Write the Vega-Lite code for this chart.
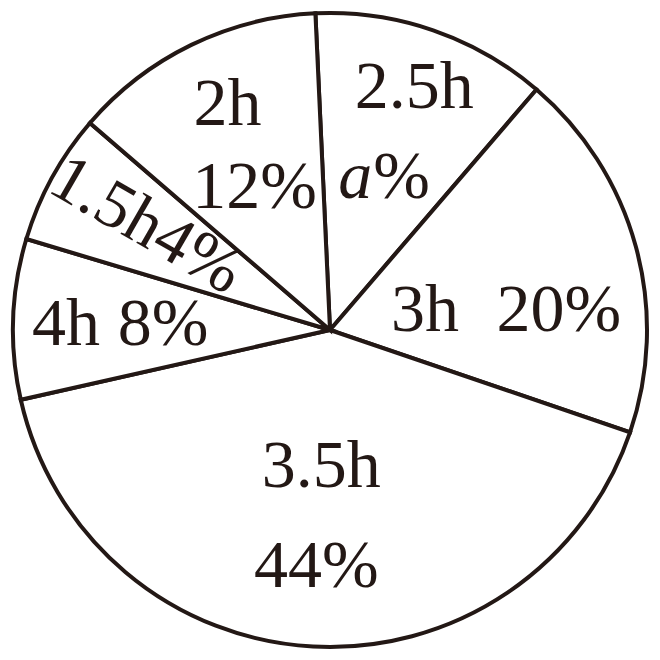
{
  "$schema": "https://vega.github.io/schema/vega-lite/v6.json",
  "width": 660,
  "height": 660,
  "autosize": {"type": "fit", "contains": "padding"},
  "padding": 0,
  "background": "white",
  "config": {"view": {"stroke": null}},
  "data": {
    "values": [
      {"slice": "2.5h", "pct": "a%", "value": 43.3, "i": 1},
      {"slice": "3h", "pct": "20%", "value": 68.2, "i": 2},
      {"slice": "3.5h", "pct": "44%", "value": 148.5, "i": 3},
      {"slice": "4h", "pct": "8%", "value": 29.4, "i": 4},
      {"slice": "1.5h", "pct": "4%", "value": 24.1, "i": 5},
      {"slice": "2h", "pct": "12%", "value": 46.6, "i": 6}
    ]
  },
  "encoding": {
    "theta": {"field": "value", "type": "quantitative", "stack": true, "scale": {"range": [-0.04608, 6.23711]}},
    "order": {"field": "i", "type": "quantitative"}
  },
  "layer": [
    {"mark": {"type": "arc", "outerRadius": 317, "fill": "white", "stroke": "#231815", "strokeWidth": 4}},
    {"mark": {"type": "text", "radius": 200, "dx": 19, "dy": -33, "align": "center", "baseline": "alphabetic", "font": "Liberation Serif", "fontSize": 68, "fill": "#231815"},
     "encoding": {"text": {"condition": {"test": "datum.slice === '2.5h'", "field": "slice", "type": "nominal"}, "value": ""}}},
    {"mark": {"type": "text", "radius": 200, "dx": -23, "dy": 57, "align": "right", "baseline": "alphabetic", "font": "Liberation Serif", "fontStyle": "italic", "fontSize": 68, "fill": "#231815"},
     "encoding": {"text": {"condition": {"test": "datum.slice === '2.5h'", "value": "a"}, "value": ""}}},
    {"mark": {"type": "text", "radius": 200, "dx": -22, "dy": 57, "align": "left", "baseline": "alphabetic", "font": "Liberation Serif", "fontSize": 68, "fill": "#231815"},
     "encoding": {"text": {"condition": {"test": "datum.slice === '2.5h'", "value": "%"}, "value": ""}}},
    {"mark": {"type": "text", "radius": 200, "dx": -98, "dy": 54, "align": "center", "baseline": "alphabetic", "font": "Liberation Serif", "fontSize": 68, "fill": "#231815"},
     "encoding": {"text": {"condition": {"test": "datum.slice === '3h'", "field": "slice", "type": "nominal"}, "value": ""}}},
    {"mark": {"type": "text", "radius": 200, "dx": 36, "dy": 54, "align": "center", "baseline": "alphabetic", "font": "Liberation Serif", "fontSize": 68, "fill": "#231815"},
     "encoding": {"text": {"condition": {"test": "datum.slice === '3h'", "field": "pct", "type": "nominal"}, "value": ""}}},
    {"mark": {"type": "text", "radius": 200, "dx": 2, "dy": -43, "align": "center", "baseline": "alphabetic", "font": "Liberation Serif", "fontSize": 68, "fill": "#231815"},
     "encoding": {"text": {"condition": {"test": "datum.slice === '3.5h'", "field": "slice", "type": "nominal"}, "value": ""}}},
    {"mark": {"type": "text", "radius": 200, "dx": -3, "dy": 57, "align": "center", "baseline": "alphabetic", "font": "Liberation Serif", "fontSize": 68, "fill": "#231815"},
     "encoding": {"text": {"condition": {"test": "datum.slice === '3.5h'", "field": "pct", "type": "nominal"}, "value": ""}}},
    {"mark": {"type": "text", "radius": 200, "dx": -64, "dy": 22, "align": "center", "baseline": "alphabetic", "font": "Liberation Serif", "fontSize": 68, "fill": "#231815"},
     "encoding": {"text": {"condition": {"test": "datum.slice === '4h'", "field": "slice", "type": "nominal"}, "value": ""}}},
    {"mark": {"type": "text", "radius": 200, "dx": 33, "dy": 22, "align": "center", "baseline": "alphabetic", "font": "Liberation Serif", "fontSize": 68, "fill": "#231815"},
     "encoding": {"text": {"condition": {"test": "datum.slice === '4h'", "field": "pct", "type": "nominal"}, "value": ""}}},
    {"mark": {"type": "text", "radius": 200, "angle": 30, "dx": 3, "dy": 17, "align": "right", "baseline": "alphabetic", "font": "Liberation Serif", "fontSize": 68, "fill": "#231815"},
     "encoding": {"text": {"condition": {"test": "datum.slice === '1.5h'", "field": "slice", "type": "nominal"}, "value": ""}}},
    {"mark": {"type": "text", "radius": 200, "angle": 30, "dx": 3, "dy": 17, "align": "left", "baseline": "alphabetic", "font": "Liberation Serif", "fontSize": 68, "fill": "#231815"},
     "encoding": {"text": {"condition": {"test": "datum.slice === '1.5h'", "field": "pct", "type": "nominal"}, "value": ""}}},
    {"mark": {"type": "text", "radius": 200, "dx": -15, "dy": -25, "align": "center", "baseline": "alphabetic", "font": "Liberation Serif", "fontSize": 68, "fill": "#231815"},
     "encoding": {"text": {"condition": {"test": "datum.slice === '2h'", "field": "slice", "type": "nominal"}, "value": ""}}},
    {"mark": {"type": "text", "radius": 200, "dx": 12, "dy": 58, "align": "center", "baseline": "alphabetic", "font": "Liberation Serif", "fontSize": 68, "fill": "#231815"},
     "encoding": {"text": {"condition": {"test": "datum.slice === '2h'", "field": "pct", "type": "nominal"}, "value": ""}}}
  ]
}
